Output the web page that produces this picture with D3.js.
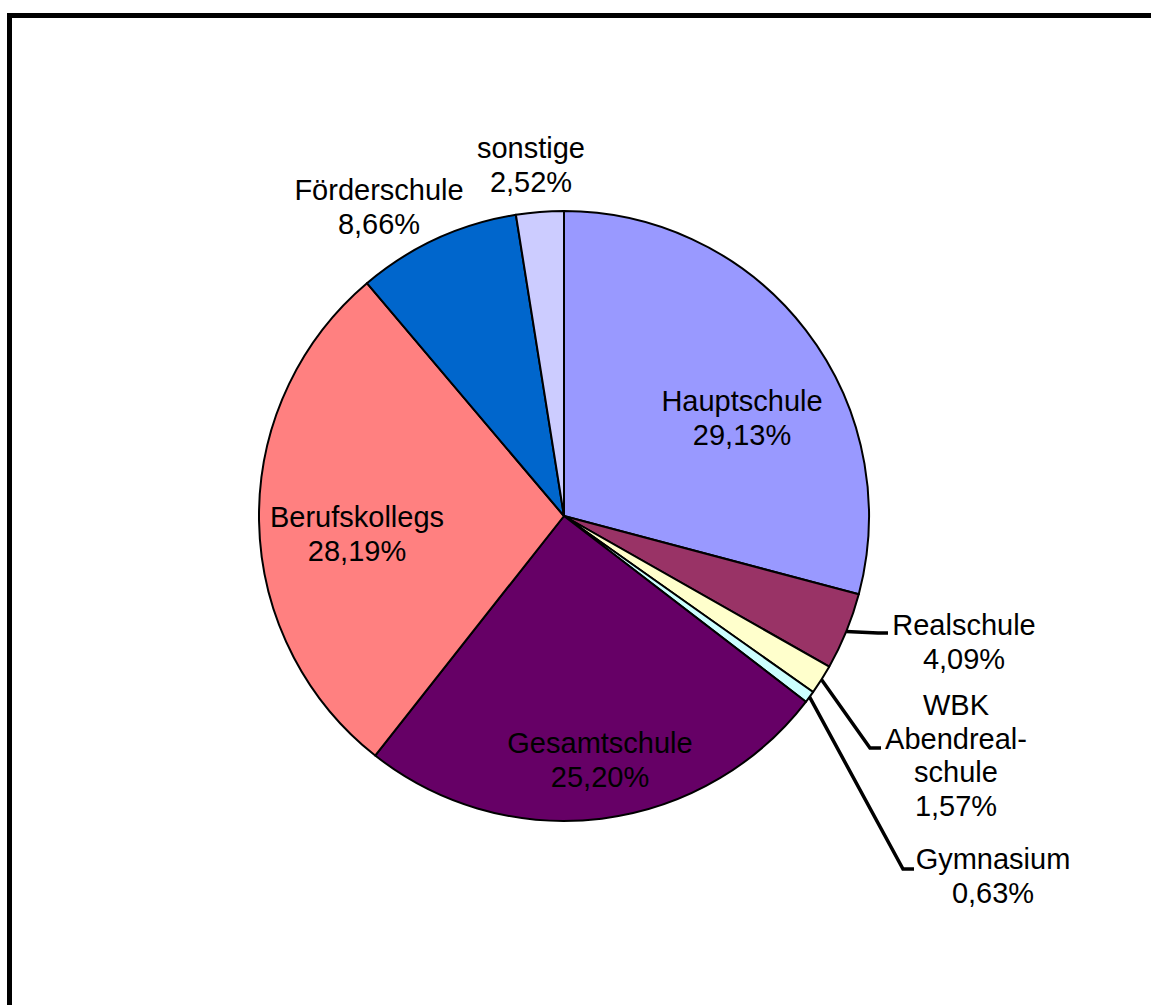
<!DOCTYPE html>
<html>
<head>
<meta charset="utf-8">
<script src="https://cdn.jsdelivr.net/npm/d3@7"></script>
<style>
  html, body { margin: 0; padding: 0; background: #fff; }
  svg { display: block; }
</style>
</head>
<body>
<svg id="chart" width="1151" height="1005"></svg>
<script>
// ---- data ----
const categories = ["Hauptschule", "Realschule", "WBK Abendreal-schule", "Gymnasium", "Gesamtschule", "Berufskollegs", "Förderschule", "sonstige"];
const values = [29.13, 4.09, 1.57, 0.63, 25.20, 28.19, 8.66, 2.52];
const labelLines = [
  ["Hauptschule", "29,13%"],
  ["Realschule", "4,09%"],
  ["WBK", "Abendreal-", "schule", "1,57%"],
  ["Gymnasium", "0,63%"],
  ["Gesamtschule", "25,20%"],
  ["Berufskollegs", "28,19%"],
  ["Förderschule", "8,66%"],
  ["sonstige", "2,52%"]
];
const colors = ["#9999FF", "#993366", "#FFFFCC", "#CCFFFF", "#660066", "#FF8080", "#0066CC", "#CCCCFF"];

// ---- layout ----
const cx = 564, cy = 516, R = 305;
const fontSize = 29, lineH = 33.5;
// label anchor: center x, first baseline y; leader elbow (null = no leader)
const labelPos = [
  {x: 742, y: 411, elbow: null},
  {x: 964, y: 635, elbow: [878, 633], end: [888, 633]},
  {x: 956, y: 715, elbow: [870, 748], end: [881, 748]},
  {x: 993, y: 869, elbow: [903, 869], end: [914, 869]},
  {x: 600, y: 753, elbow: null},
  {x: 357, y: 527, elbow: null},
  {x: 379, y: 200, elbow: null},
  {x: 531, y: 158, elbow: null}
];

const svg = d3.select("#chart");

// frame
svg.append("rect")
  .attr("x", 9.5).attr("y", 15.5)
  .attr("width", 1170).attr("height", 1010)
  .attr("fill", "none").attr("stroke", "#000").attr("stroke-width", 5);

const pie = d3.pie().sort(null).value(d => d)
  .startAngle(0).endAngle(2 * Math.PI);
const arcs = pie(values);
const arc = d3.arc().innerRadius(0).outerRadius(R);

const g = svg.append("g").attr("transform", `translate(${cx},${cy})`);
g.selectAll("path.slice").data(arcs).enter().append("path")
  .attr("class", "slice")
  .attr("d", arc)
  .attr("fill", (d, i) => colors[i])
  .attr("stroke", "#000").attr("stroke-width", 2)
  .attr("stroke-linejoin", "round");

// leader lines
arcs.forEach((d, i) => {
  const lp = labelPos[i];
  if (!lp.elbow) return;
  const a = (d.startAngle + d.endAngle) / 2;
  const sx = cx + R * Math.sin(a), sy = cy - R * Math.cos(a);
  svg.append("polyline")
    .attr("points", [[sx, sy], lp.elbow, lp.end].map(p => p.join(",")).join(" "))
    .attr("fill", "none").attr("stroke", "#000").attr("stroke-width", 3.5)
    .attr("stroke-linejoin", "miter");
});

// labels
labelLines.forEach((lines, i) => {
  const lp = labelPos[i];
  const t = svg.append("text")
    .attr("text-anchor", "middle")
    .attr("font-family", "'Liberation Sans', Arial, sans-serif")
    .attr("font-size", fontSize)
    .attr("fill", "#000");
  lines.forEach((s, j) => {
    t.append("tspan").attr("x", lp.x).attr("y", lp.y + j * lineH).text(s);
  });
});
</script>
</body>
</html>
